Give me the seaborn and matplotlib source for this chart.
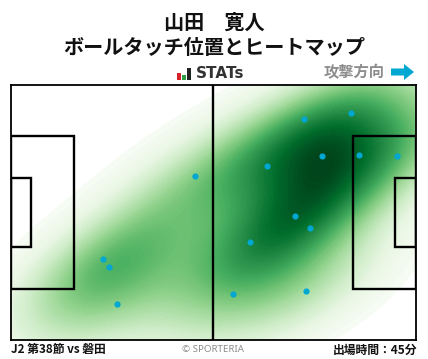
"""Ball touch heatmap"""
import seaborn as sns
import matplotlib.pyplot as plt
from matplotlib.patches import Rectangle, FancyArrow
import pandas as pd

TEXT, MUTED, DOT = '#111111', '#8c8c8c', '#00a7d0'

# touch positions, metres on a 105 x 68 pitch
touch_x = [47.7, 23.9, 25.4, 27.5, 76.0, 88.2, 66.4, 80.6, 90.2, 100.1, 73.6, 77.5, 62.0, 57.6, 76.5]
touch_y = [43.7, 21.6, 19.5, 9.6, 58.9, 60.5, 46.4, 49.1, 49.3, 49.1, 33.1, 29.9, 26.1, 12.3, 13.1]

player = '山田\u3000寛人'
title2 = 'ボールタッチ位置とヒートマップ'
match_label = 'J2 第38節 vs 磐田'
minutes_label = '出場時間：45分'
direction_label = '攻撃方向'
copyright_label = '© SPORTERIA'

PITCH_L, PITCH_W = 105, 68
BOX_D, BOX_W = 16.4, 40.6
AREA_D, AREA_W = 5.4, 18.4

sns.set_theme(style='white')
plt.rcParams['font.family'] = ['Noto Sans CJK JP', 'DejaVu Sans']

df = pd.DataFrame({'x': touch_x, 'y': touch_y})

W, H = 428, 359
fig = plt.figure(figsize=(W / 100, H / 100), dpi=100, facecolor='white')
ax = fig.add_axes([10.5 / W, 1 - 340 / H, 405.5 / W, 255.5 / H])

sns.kdeplot(data=df, x='x', y='y', fill=True, cmap='Greens', levels=80, thresh=0.02,
            bw_adjust=1.05, gridsize=200, clip=((-30, 135), (-30, 98)), ax=ax)
sns.scatterplot(data=df, x='x', y='y', color=DOT, s=20, linewidth=0, ax=ax, zorder=5)

ax.set_xlim(0, PITCH_L)
ax.set_ylim(0, PITCH_W)
ax.set_xticks([])
ax.set_yticks([])
ax.set_xlabel('')
ax.set_ylabel('')
for sp in ax.spines.values():
    sp.set_edgecolor('black')
    sp.set_linewidth(1.3)
    sp.set_zorder(6)

# pitch markings
lw = 1.7
ax.axvline(PITCH_L / 2, color='black', lw=lw, zorder=4)
for d, w in [(BOX_D, BOX_W), (AREA_D, AREA_W)]:
    y0 = (PITCH_W - w) / 2
    ax.add_patch(Rectangle((0, y0), d, w, fill=False, ec='black', lw=lw, zorder=4))
    ax.add_patch(Rectangle((PITCH_L - d, y0), d, w, fill=False, ec='black', lw=lw, zorder=4))

fig.text(214 / W, 1 - 22 / H, player, ha='center', va='center', fontsize=14.5,
         fontweight='bold', color=TEXT)
fig.text(214 / W, 1 - 48 / H, title2, ha='center', va='center', fontsize=14.5,
         fontweight='bold', color=TEXT)

# STATs logo
for px, top, c in [(177, 73, '#d8202a'), (182, 75, '#2f9e44'), (187, 68, '#222222')]:
    fig.add_artist(Rectangle((px / W, 1 - 80 / H), 4 / W, (80 - top) / H,
                             transform=fig.transFigure, fc=c, ec='none'))
fig.text(196 / W, 1 - 74 / H, 'STATs', ha='left', va='center', fontsize=11,
         fontweight='bold', color='#333333', family=['DejaVu Sans'])

fig.text(385 / W, 1 - 72 / H, direction_label, ha='right', va='center', fontsize=11,
         fontweight='bold', color=MUTED)
fig.add_artist(FancyArrow(391 / W, 1 - 72 / H, 23 / W, 0, width=7 / H, head_width=16 / H,
                          head_length=10 / W, length_includes_head=True,
                          transform=fig.transFigure, fc=DOT, ec='none'))

fig.text(11 / W, 1 - 350 / H, match_label, ha='left', va='center', fontsize=8.5,
         fontweight='bold', color=TEXT)
fig.text(213 / W, 1 - 349 / H, copyright_label, ha='center', va='center', fontsize=7,
         color=MUTED, family=['Noto Sans', 'DejaVu Sans'])
fig.text(417 / W, 1 - 350 / H, minutes_label, ha='right', va='center', fontsize=8.5,
         fontweight='bold', color=TEXT)

plt.savefig('out.png', dpi=100, facecolor='white')
